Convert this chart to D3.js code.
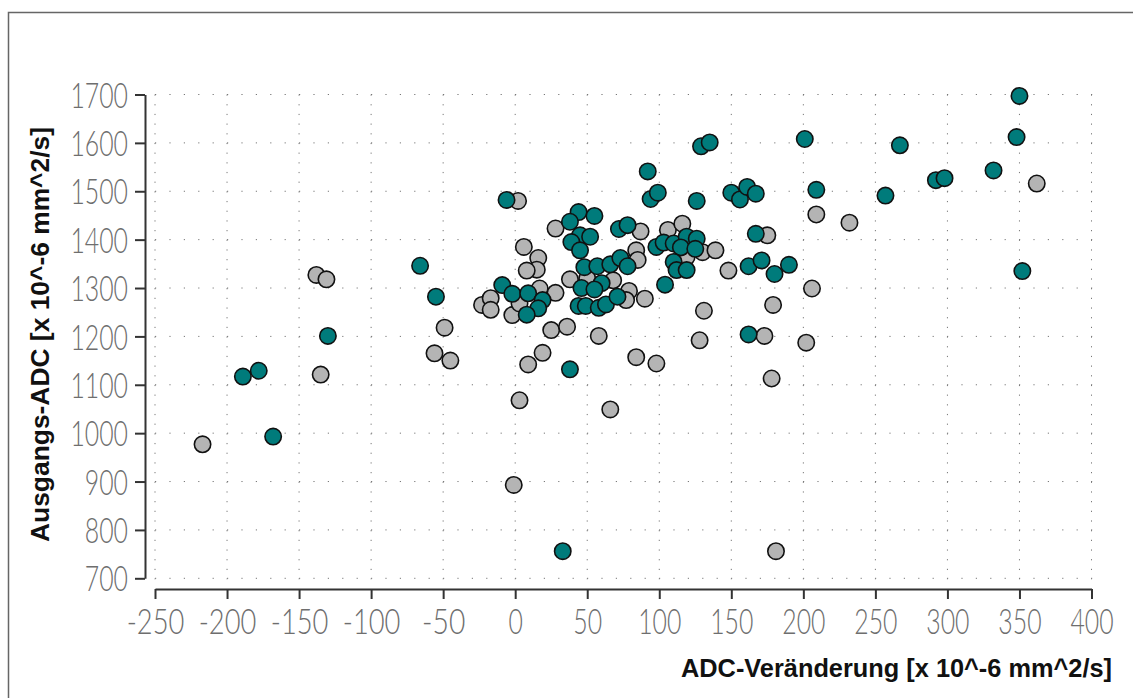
<!DOCTYPE html>
<html>
<head>
<meta charset="utf-8">
<script src="https://cdn.jsdelivr.net/npm/d3@7"></script>
<style>
  body { margin: 0; background: #fff; }
  svg { display: block; }
</style>
</head>
<body>
<div id="chart"></div>
<script>
// tick values + titles
const xTicks = [-250, -200, -150, -100, -50, 0, 50, 100, 150, 200, 250, 300, 350, 400];
const yTicks = [700, 800, 900, 1000, 1100, 1200, 1300, 1400, 1500, 1600, 1700];
const xTitle = "ADC-Veränderung [x 10^-6 mm^2/s]";
const yTitle = "Ausgangs-ADC [x 10^-6 mm^2/s]";

// grey group [ADC change, baseline ADC]
const grayPoints = [
  [-217, 977], [-138, 1327], [-131, 1318], [-135, 1121], [-56, 1165], [-49, 1218], [-45, 1150],
  [-23, 1265], [-17, 1279], [-17, 1255], [-2, 1244], [3, 1268], [-1, 893], [2, 1480],
  [6, 1385], [16, 1362], [15, 1338], [8, 1336], [17, 1299], [28, 1290],
  [28, 1423], [38, 1318], [50, 1320], [68, 1316], [79, 1294], [77, 1275], [90, 1278],
  [84, 1378], [87, 1417], [85, 1358],
  [25, 1213], [36, 1220], [58, 1201], [19, 1166], [9, 1142], [3, 1068], [66, 1049],
  [84, 1157], [98, 1144],
  [106, 1420], [116, 1433], [119, 1364], [130, 1374], [139, 1378], [148, 1336],
  [131, 1253], [128, 1192],
  [173, 1201], [178, 1113], [179, 1265], [175, 1409], [181, 756],
  [206, 1299], [202, 1187], [209, 1452], [232, 1435], [362, 1516]
];

// teal group
const tealPoints = [
  [-189, 1117], [-178, 1129], [-168, 993], [-130, 1201], [-66, 1346], [-55, 1282],
  [-9, 1306], [-2, 1288], [9, 1289], [19, 1275], [16, 1258], [8, 1245],
  [-6, 1482],
  [44, 1457], [55, 1449], [38, 1437], [45, 1409], [52, 1406], [39, 1395], [45, 1378],
  [48, 1343], [57, 1345], [66, 1349], [73, 1362], [78, 1345],
  [72, 1422], [78, 1430],
  [60, 1310], [46, 1300], [55, 1297],
  [44, 1263], [49, 1263], [58, 1259], [63, 1266], [71, 1282],
  [38, 1132], [33, 756],
  [92, 1541], [94, 1484], [99, 1497], [126, 1480], [129, 1593], [135, 1601],
  [150, 1497], [156, 1483], [161, 1509], [167, 1495],
  [98, 1385], [103, 1394], [110, 1392], [119, 1406], [126, 1402], [115, 1384], [125, 1381],
  [110, 1354], [112, 1337], [119, 1337], [104, 1307],
  [162, 1345], [171, 1357], [180, 1329], [190, 1348], [167, 1412],
  [162, 1204],
  [201, 1608], [209, 1503], [257, 1491], [267, 1595], [292, 1523], [298, 1527],
  [332, 1543], [348, 1612], [350, 1697], [352, 1335]
];

var width = 1133;
var height = 698;

var x = d3.scaleLinear().domain([-250, 400]).range([155, 1091.5]);
var y = d3.scaleLinear().domain([700, 1700]).range([578.3, 94.5]);

const svg = d3.select("#chart").append("svg")
  .attr("width", width)
  .attr("height", height);

// frame (only top + left edge are inside the picture)
svg.append("path")
  .attr("d", "M8.5,700V12.5H1140")
  .attr("fill", "none")
  .attr("stroke", "#666")
  .attr("stroke-width", 1.5);

// dotted grid
svg.append("g")
  .selectAll("line")
  .data(yTicks)
  .join("line")
  .attr("x1", x(-250))
  .attr("x2", x(400) + 1)
  .attr("y1", d => y(d))
  .attr("y2", d => y(d))
  .attr("stroke", "#777")
  .attr("stroke-dasharray", "1.2 13.2");

svg.append("g")
  .selectAll("line")
  .data(xTicks)
  .join("line")
  .attr("x1", d => x(d))
  .attr("x2", d => x(d))
  .attr("y1", y(1700))
  .attr("y2", y(700) + 1)
  .attr("stroke", "#777")
  .attr("stroke-dasharray", "1.2 8.48");

// axes, detached from the plot area
var xAxis = d3.axisBottom(x)
  .tickValues(xTicks)
  .tickSize(10)
  .tickSizeOuter(0)
  .tickPadding(10)
  .tickFormat(d => String(d));

var yAxis = d3.axisLeft(y)
  .tickValues(yTicks)
  .tickSize(10)
  .tickSizeOuter(0)
  .tickPadding(7)
  .tickFormat(d => String(d));

function styleAxis(g) {
  g.select(".domain").attr("stroke", "#333").attr("stroke-width", 2);
  g.selectAll(".tick line").attr("stroke", "#333").attr("stroke-width", 2);
  g.selectAll(".tick text")
    .attr("fill", "#6e6e6e")
    .attr("font-family", "Lato, 'Liberation Sans Narrow', 'Liberation Sans', sans-serif")
    .attr("font-weight", 300)
    .attr("font-size", 35)
    .attr("textLength", function () { return this.textContent.length * 14.4; })
    .attr("lengthAdjust", "spacingAndGlyphs");
}

svg.append("g")
  .attr("transform", "translate(0,589)")
  .call(xAxis)
  .call(styleAxis);

svg.append("g")
  .attr("transform", "translate(145,0)")
  .call(yAxis)
  .call(styleAxis)
  .call(g => g.selectAll(".tick text").attr("dy", "0.36em"));

// axis titles
svg.append("text")
  .attr("x", 1112)
  .attr("y", 677)
  .attr("text-anchor", "end")
  .attr("font-family", "'Liberation Sans', Arial, sans-serif")
  .attr("font-weight", "bold")
  .attr("font-size", 25)
  .attr("textLength", 431)
  .attr("lengthAdjust", "spacingAndGlyphs")
  .attr("fill", "#111")
  .text(xTitle);

svg.append("text")
  .attr("transform", "translate(49,542) rotate(-90)")
  .attr("text-anchor", "start")
  .attr("font-family", "'Liberation Sans', Arial, sans-serif")
  .attr("font-weight", "bold")
  .attr("font-size", 25)
  .attr("textLength", 415)
  .attr("lengthAdjust", "spacingAndGlyphs")
  .attr("fill", "#111")
  .text(yTitle);

// points: grey first, teal on top
function drawPoints(data, fill) {
  svg.append("g")
    .selectAll("circle")
    .data(data)
    .join("circle")
    .attr("cx", d => x(d[0]))
    .attr("cy", d => y(d[1]))
    .attr("r", 8.2)
    .attr("fill", fill)
    .attr("stroke", "#111")
    .attr("stroke-width", 1.6);
}

drawPoints(grayPoints, "#b4b4b4");
drawPoints(tealPoints, "#007b7b");
</script>
</body>
</html>
